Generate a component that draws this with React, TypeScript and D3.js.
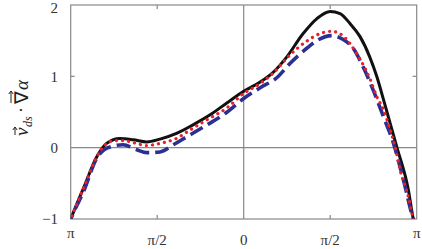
import React from 'react';
import * as d3 from 'd3';

const PI = Math.PI;

// angle (rad) and value pairs
const blackTheta = [-3.2, -3.14, -2.9, -2.67, -2.49, -2.25, -2.0, -1.76, -1.52, -1.22, -0.92, -0.61, -0.3, 0, 0.3, 0.54, 0.78, 1.08, 1.33, 1.57, 1.75, 1.93, 2.11, 2.29, 2.42, 2.54, 2.66, 2.78, 2.99, 3.08, 3.16];
const blackValue = [-1.12, -1.0, -0.55, -0.13, 0.06, 0.13, 0.11, 0.08, 0.12, 0.2, 0.32, 0.46, 0.63, 0.79, 0.92, 1.06, 1.27, 1.6, 1.81, 1.91, 1.88, 1.74, 1.56, 1.27, 0.99, 0.67, 0.34, 0.01, -0.59, -1.0, -1.2];

const redTheta = [-3.2, -3.14, -2.9, -2.67, -2.49, -2.34, -2.2, -2.0, -1.76, -1.52, -1.22, -0.97, -0.67, -0.3, 0, 0.3, 0.54, 0.84, 1.14, 1.39, 1.6, 1.8, 2.05, 2.29, 2.42, 2.54, 2.66, 2.75, 2.84, 2.99, 3.08, 3.16];
const redValue = [-1.12, -1.0, -0.55, -0.13, 0.06, 0.1, 0.1, 0.07, 0.03, 0.06, 0.13, 0.25, 0.39, 0.56, 0.76, 0.9, 1.05, 1.3, 1.49, 1.6, 1.63, 1.57, 1.32, 0.97, 0.71, 0.53, 0.25, 0.01, -0.31, -0.69, -1.0, -1.2];

const blueTheta = [-3.2, -3.14, -2.9, -2.67, -2.43, -2.19, -1.94, -1.76, -1.52, -1.28, -1.04, -0.73, -0.3, 0, 0.3, 0.6, 0.84, 1.14, 1.35, 1.6, 1.8, 1.99, 2.17, 2.35, 2.54, 2.72, 2.9, 3.08, 3.16];
const blueValue = [-1.12, -1.0, -0.6, -0.15, 0.01, 0.04, -0.03, -0.07, -0.06, 0.04, 0.15, 0.29, 0.5, 0.69, 0.84, 0.98, 1.18, 1.39, 1.51, 1.57, 1.52, 1.39, 1.13, 0.81, 0.43, 0.06, -0.45, -1.0, -1.15];

const xTicks = [-PI, -PI / 2, 0, PI / 2, PI];
const xTickLabels = ['π', 'π/2', '0', 'π/2', 'π'];
const yTicks = [-1, 0, 1, 2];
const yTickLabels = ['−1', '0', '1', '2'];

const W = 422;
const H = 249;
const L = 70.7, R = 416.7, T = 5, B = 219;

// small vector arrow drawn over a glyph (in rotated label coordinates)
function Arrow({ x0, x1, yy }: { x0: number; x1: number; yy: number }) {
  return (
    <path d={`M${x0},${yy} L${x1},${yy} M${x1 - 3},${yy - 2.2} L${x1},${yy} L${x1 - 3},${yy + 2.2}`}
      fill="none" stroke="#222" strokeWidth={1} />
  );
}

export default function App() {
  const x = d3.scaleLinear().domain([-PI, PI]).range([L, R]);
  const y = d3.scaleLinear().domain([-1, 2]).range([B, T]);
  const line = d3.line<[number, number]>()
    .x(d => x(d[0]))
    .y(d => y(d[1]))
    .curve(d3.curveMonotoneX);

  const zip = (a: number[], b: number[]) => a.map((t, i) => [t, b[i]] as [number, number]);

  const gridColor = '#888';
  const font = '"Liberation Serif", serif';

  return (
    <svg width={W} height={H} style={{ position: 'absolute', left: 0, top: 0 }}>
      <defs>
        <clipPath id="plotclip">
          <rect x={L} y={T} width={R - L} height={B - T} />
        </clipPath>
      </defs>
      <rect x={0} y={0} width={W} height={H} fill="#fff" />
      {/* zero lines */}
      <line x1={L} x2={R} y1={y(0)} y2={y(0)} stroke={gridColor} strokeWidth={1.2} />
      <line x1={x(0)} x2={x(0)} y1={T} y2={B} stroke={gridColor} strokeWidth={1.2} />
      {/* inward ticks */}
      {[-PI / 2, PI / 2].map((t, i) => (
        <g key={'xt' + i}>
          <line x1={x(t)} x2={x(t)} y1={B} y2={B - 4} stroke={gridColor} strokeWidth={1.2} />
          <line x1={x(t)} x2={x(t)} y1={T} y2={T + 4} stroke={gridColor} strokeWidth={1.2} />
        </g>
      ))}
      {[1].map((v, i) => (
        <g key={'yt' + i}>
          <line x1={L} x2={L + 4} y1={y(v)} y2={y(v)} stroke={gridColor} strokeWidth={1.2} />
          <line x1={R} x2={R - 4} y1={y(v)} y2={y(v)} stroke={gridColor} strokeWidth={1.2} />
        </g>
      ))}
      <rect x={L} y={T} width={R - L} height={B - T} fill="none" stroke={gridColor} strokeWidth={1.2} />

      <g clipPath="url(#plotclip)" fill="none" strokeLinecap="round" strokeLinejoin="round">
        <path d={line(zip(blackTheta, blackValue)) || ''} stroke="#111" strokeWidth={3} />
        <path d={line(zip(blueTheta, blueValue)) || ''} stroke="#2b2f92" strokeWidth={3.6} strokeLinecap="butt" strokeDasharray="14 6" />
        <path d={line(zip(redTheta, redValue)) || ''} stroke="#e8202a" strokeWidth={3.2} strokeDasharray="0.1 6" />
      </g>

      {/* tick labels */}
      <g style={{ fontFamily: font }} fontSize={15} fill="#333">
        {yTicks.map((v, i) => (
          <text key={'yl' + i} x={58} y={Math.max(y(v), 8)} dy="0.35em" textAnchor="end">{yTickLabels[i]}</text>
        ))}
        {xTicks.map((t, i) => (
          <text key={'xl' + i} x={x(t)} y={xTickLabels[i] === 'π' ? 238 : 245} textAnchor="middle">
            {xTickLabels[i]}
          </text>
        ))}
      </g>

      {/* y axis label */}
      <g transform="translate(28, 108) rotate(-90)" style={{ fontFamily: font }} fill="#222">
        <text x={-28} y={0} fontSize={19} fontStyle="italic">v</text>
        <text x={-19} y={4} fontSize={12} fontStyle="italic">ds</text>
        <text x={-5} y={-1} fontSize={18}>·</text>
        <text x={4} y={0} fontSize={19}>∇</text>
        <text x={18} y={0} fontSize={19} fontStyle="italic">α</text>
        <Arrow x0={-27} x1={-19} yy={-13} />
        <Arrow x0={5} x1={17} yy={-17} />
      </g>
    </svg>
  );
}
